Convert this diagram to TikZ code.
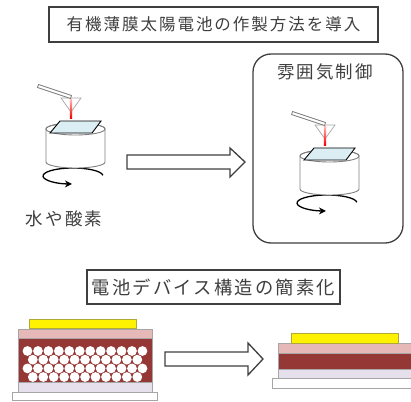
\documentclass[tikz,border=0pt]{standalone}
\usepackage{fontspec}
\usetikzlibrary{arrows.meta}
\newfontfamily\jpfont{Noto Sans CJK JP}[LetterSpace=12]

\definecolor{inkgray}{HTML}{3F3F3F}
\definecolor{glassblue}{HTML}{DAEEF3}
\definecolor{maroonlayer}{HTML}{953735}
\definecolor{pinklayer}{HTML}{E6B9B8}
\definecolor{lavlayer}{HTML}{E6E0EC}
\definecolor{edgegray}{HTML}{A6A6A6}

\tikzset{
    titlebox/.style={draw=inkgray, line width=1.3pt, fill=white, text=inkgray, inner sep=0pt},
    jptext/.style={text=inkgray, inner sep=0pt},
    hollowarrow/.style={draw=inkgray, line width=1.3pt, fill=white, line join=miter},
    layer/.style={draw=edgegray, line width=0.7pt},
}

\begin{document}
\begin{tikzpicture}[x=1pt, y=-1pt]
            \useasboundingbox (0,0) rectangle (411,401);

            % headings
            \node[titlebox, minimum width=329pt, minimum height=35pt,
                font=\jpfont\fontsize{16.5}{18}\selectfont] (method) at (213.5,24.5) {有機薄膜太陽電池の作製方法を導入};
            \node[titlebox, minimum width=253pt, minimum height=34pt,
                font=\jpfont\fontsize{18.3}{20}\selectfont] (device) at (213.5,287) {電池デバイス構造の簡素化};

            % glove box
            \node[draw=inkgray, line width=1.3pt, rounded corners=18pt,
                minimum width=150pt, minimum height=189pt] (chamber) at (328,148.5) {};
            \node[jptext, font=\jpfont\fontsize{17.5}{19}\selectfont] (atmos) at (325,72) {雰囲気制御};
            \node[jptext, font=\jpfont\fontsize{17.5}{19}\selectfont] (ambient) at (64,219) {水や酸素};

            % spin coaters
            \foreach \dx/\dy in {0/0, 254/27}
                {
                    \begin{scope}[shift={(\dx,\dy)}]
                        % rotation
                        \draw[line width=1.3pt, -{Stealth[length=7pt, width=7pt]}] (102.9,175.3)
                            arc[start angle=-5, end angle=-268, x radius=30, y radius=8];
                        % chuck
                        \filldraw[draw=gray, fill=white, line width=0.9pt] (46,129) -- (46,162)
                            arc[start angle=180, end angle=0, x radius=29.5, y radius=6] -- (105,129)
                            arc[start angle=0, end angle=-180, x radius=29.5, y radius=6] -- cycle;
                        \draw[gray, line width=0.9pt] (75.5,129) ellipse [x radius=29.5, y radius=6];
                        % substrate
                        \filldraw[fill=glassblue, draw=black, line width=0.9pt] (50,133) -- (60,121) -- (101,121) -- (92,133) -- cycle;
                        % dropper
                        \filldraw[fill=white, draw=edgegray, line width=0.7pt] (61,98) -- (81,98) -- (71,112) -- cycle;
                        \shade[top color=red!25, bottom color=red] (69.8,98.5) rectangle (72.2,118);
                        \filldraw[fill=white, draw=gray, line width=0.8pt] (38.5,84.5) -- (71.5,95.5) -- (70.5,98.5) -- (37.5,87.5) -- cycle;
                    \end{scope}
                }

            % big arrows
            \filldraw[hollowarrow] (127,155) -- (230,155) -- (230,148) -- (245,162) -- (230,177) -- (230,169) -- (127,169) -- cycle;
            \filldraw[hollowarrow] (165,352) -- (248,352) -- (248,343) -- (263,359) -- (248,375) -- (248,366) -- (165,366) -- cycle;

            % porous cell
            \filldraw[layer, fill=white] (12,392) rectangle (157,400);
            \filldraw[layer, fill=lavlayer] (18,382) rectangle (152,392);
            \filldraw[layer, fill=maroonlayer] (18,338) rectangle (152,382);
            \filldraw[layer, fill=pinklayer] (18,329) rectangle (152,338);
            \filldraw[layer, draw=olive!70, fill=yellow] (29,319) rectangle (136,328);
            \foreach \yc/\xs/\n in {351/27.5/11, 359.7/32.8/10, 368.4/27.5/11, 377/32.8/10}
                {
                    \foreach \k in {0,...,\n}
                        \fill[white] (\xs+10.45*\k, \yc) circle (4.9);
                }

            % flat cell
            \filldraw[layer, fill=white] (272,378) rectangle (420,388);
            \filldraw[layer, fill=lavlayer] (278,369) rectangle (420,378);
            \filldraw[layer, fill=maroonlayer] (278,353) rectangle (420,369);
            \filldraw[layer, fill=pinklayer] (278,343) rectangle (420,353);
            \filldraw[layer, draw=olive!70, fill=yellow] (291,333) rectangle (398,343);

        \end{tikzpicture}
\end{document}
